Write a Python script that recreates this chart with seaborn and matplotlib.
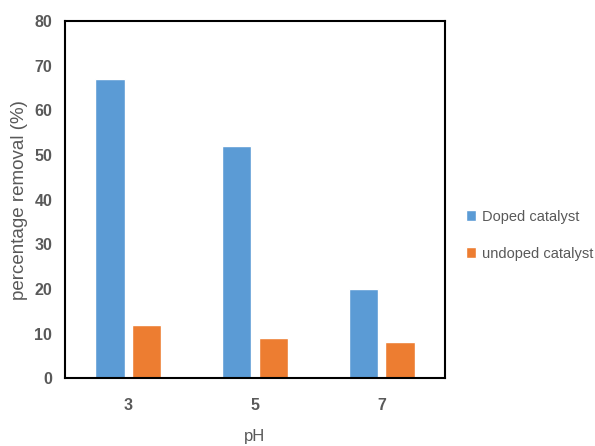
import pandas as pd
import matplotlib
matplotlib.use("Agg")
import matplotlib.pyplot as plt
import seaborn as sns

ph_levels = ["3", "5", "7"]
doped = [67, 52, 20]
undoped = [12, 9, 8]
series_names = ["Doped catalyst", "undoped catalyst"]
colors = ["#5B9BD5", "#ED7D31"]

df = pd.DataFrame({
    "pH": ph_levels * 2,
    "removal": doped + undoped,
    "catalyst": [series_names[0]] * 3 + [series_names[1]] * 3,
})

sns.set_style("white")
plt.rcParams['font.family'] = ['Liberation Sans', 'DejaVu Sans']
grey = "#595959"

fig = plt.figure(figsize=(5.95, 4.46), dpi=100)
ax = fig.add_axes([0.109, 0.152, 0.639, 0.801])
sns.barplot(data=df, x="pH", y="removal", hue="catalyst", palette=colors,
            width=0.58, gap=0.2, ax=ax, saturation=1)

ax.set_ylim(0, 80)
ax.set_yticks(range(0, 81, 10))
ax.set_xlabel("pH", color=grey, fontsize=12, labelpad=12)
ax.set_ylabel("percentage removal (%)", color=grey, fontsize=13.5, labelpad=5)
ax.tick_params(axis="x", length=0, pad=14, labelsize=11.5, labelcolor=grey)
ax.tick_params(axis="y", length=0, pad=9, labelsize=11.5, labelcolor=grey)
for lbl in ax.get_xticklabels() + ax.get_yticklabels():
    lbl.set_fontweight("bold")
for s in ax.spines.values():
    s.set_color("black")
    s.set_linewidth(1.5)

handles, labels = ax.get_legend_handles_labels()
ax.legend(handles, labels, loc="center left", bbox_to_anchor=(1.02, 0.40),
          frameon=False, handlelength=0.7, handleheight=0.8, handletextpad=0.4,
          labelspacing=1.6, fontsize=10.5, labelcolor=grey)

fig.savefig("out.png", dpi=100)
